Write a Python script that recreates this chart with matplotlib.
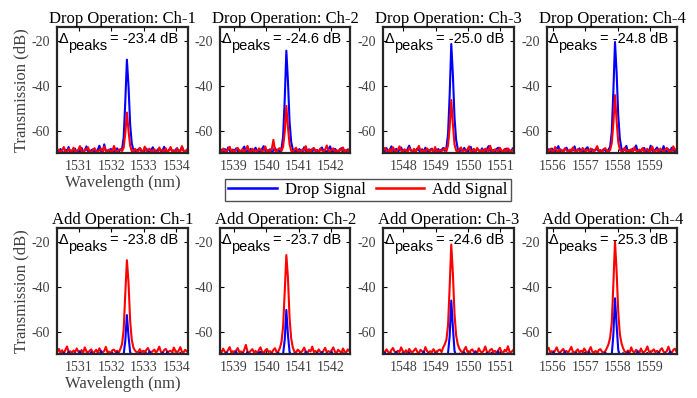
import numpy as np
import matplotlib.pyplot as plt

plt.rcParams['font.family'] = 'Liberation Serif'
plt.rcParams['axes.unicode_minus'] = False

# wavelength grid of each channel (start, nm) and sample step
wl_start = [1530.33, 1538.57, 1547.38, 1555.82]
wl_step = 0.05
n_pts = 82

# ---- Drop operation: drop signal (blue) / add signal (red), dB ----
dropop_drop_ch1 = [
    -68.6, -69.8, -68.1, -69.3, -70.2, -68.4, -68.9, -67.2, -69.6, -68.7,
    -69.4, -67.9, -70.1, -68.5, -69.2, -67.6, -69.5, -68.8, -66.9, -69.1,
    -69.9, -68.6, -68.2, -69.4, -69.7, -68.5, -66.6, -69.0, -69.8, -66.0,
    -69.1, -68.7, -69.5, -68.0, -68.9, -69.6, -68.5, -67.8, -69.3, -68.4,
    -68.2, -63.0, -47.0, -28.2, -40.0, -57.0, -65.5, -68.5, -69.3, -68.7,
    -68.3, -67.7, -69.2, -69.8, -68.4, -67.9, -69.0, -69.5, -68.6, -67.3,
    -69.1, -69.7, -68.3, -68.0, -69.2, -68.8, -67.1, -68.9, -69.6, -68.4,
    -68.1, -69.0, -69.9, -68.5, -67.7, -69.3, -68.6, -67.2, -68.9, -69.5,
    -68.5, -68.2]
dropop_add_ch1 = [
    -69.1, -68.3, -69.5, -68.7, -67.2, -69.2, -69.7, -67.9, -68.8, -69.4,
    -67.5, -69.0, -69.6, -68.4, -66.8, -68.9, -69.8, -68.2, -68.6, -67.3,
    -69.2, -69.6, -68.5, -67.7, -68.9, -69.4, -68.6, -67.9, -69.3, -67.0,
    -68.8, -69.7, -68.3, -68.9, -69.2, -66.7, -68.7, -69.4, -68.5, -68.1,
    -69.0, -67.5, -61.0, -51.8, -60.0, -66.5, -69.1, -69.5, -68.0, -68.8,
    -69.3, -67.6, -68.6, -69.4, -67.0, -69.0, -68.5, -67.9, -69.6, -68.8,
    -68.2, -69.3, -69.7, -67.4, -68.9, -68.4, -69.2, -67.8, -69.4, -68.7,
    -67.2, -69.1, -68.6, -69.5, -68.0, -68.8, -69.3, -66.8, -68.9, -69.6,
    -68.3, -69.0]
dropop_drop_ch2 = [
    -69.2, -68.4, -69.7, -68.1, -69.5, -67.4, -68.8, -69.6, -68.3, -69.0,
    -67.8, -69.3, -68.6, -69.9, -68.2, -67.0, -69.1, -68.7, -69.4, -68.0,
    -69.6, -68.5, -67.5, -69.2, -68.9, -69.7, -68.1, -66.8, -69.0, -68.6,
    -69.3, -68.2, -69.8, -68.7, -67.6, -69.1, -68.4, -69.5, -68.0, -62.5,
    -46.0, -24.2, -38.0, -56.0, -65.0, -68.3, -69.2, -68.6, -69.5, -68.1,
    -68.8, -69.4, -67.3, -68.9, -69.6, -68.2, -68.7, -69.3, -67.9, -69.0,
    -68.5, -69.8, -68.1, -67.4, -69.2, -68.8, -69.5, -68.3, -66.9, -68.9,
    -69.4, -68.0, -68.7, -69.7, -68.4, -67.7, -69.1, -68.6, -69.3, -68.2,
    -69.0, -68.5]
dropop_add_ch2 = [
    -68.7, -69.4, -67.9, -68.8, -69.5, -68.2, -67.1, -69.0, -68.6, -69.3,
    -68.4, -67.6, -69.2, -68.9, -68.1, -69.6, -68.5, -66.7, -68.9, -69.4,
    -68.0, -69.1, -68.6, -69.5, -67.8, -68.3, -69.2, -68.7, -67.0, -69.3,
    -68.5, -69.0, -68.2, -64.0, -68.8, -69.4, -68.1, -67.7, -69.0, -67.0,
    -60.5, -48.8, -58.5, -66.0, -68.9, -69.3, -68.4, -67.5, -69.1, -68.7,
    -69.4, -68.2, -68.8, -66.8, -69.2, -68.5, -69.6, -68.0, -67.6, -69.0,
    -68.6, -69.3, -67.9, -68.7, -69.5, -68.2, -66.5, -68.9, -69.1, -68.4,
    -67.8, -69.2, -68.6, -69.7, -68.1, -68.9, -67.4, -69.3, -68.5, -69.0,
    -68.3, -67.9]
dropop_drop_ch3 = [
    -68.4, -69.1, -67.7, -69.5, -68.6, -66.9, -68.9, -69.3, -68.0, -69.6,
    -68.3, -67.4, -69.2, -68.8, -69.7, -68.1, -66.6, -68.7, -69.4, -68.5,
    -69.0, -67.8, -68.6, -69.5, -68.2, -69.1, -67.5, -68.9, -69.6, -68.4,
    -67.9, -69.3, -68.7, -69.0, -68.1, -69.4, -68.6, -67.6, -68.9, -67.5,
    -61.5, -44.0, -21.2, -35.0, -54.0, -64.0, -68.0, -69.2, -68.4, -69.0,
    -67.6, -68.8, -69.5, -68.3, -67.1, -69.0, -68.7, -69.4, -68.0, -68.6,
    -69.3, -67.8, -68.9, -69.6, -68.2, -66.8, -68.8, -69.1, -68.5, -69.4,
    -68.1, -67.5, -69.2, -68.7, -69.5, -68.3, -67.9, -69.0, -68.6, -69.3,
    -67.7, -68.9]
dropop_add_ch3 = [
    -69.0, -67.6, -68.8, -69.4, -68.1, -69.2, -67.3, -68.7, -69.5, -68.4,
    -66.9, -68.9, -69.3, -68.2, -68.7, -69.6, -67.5, -68.5, -69.1, -68.0,
    -69.4, -68.3, -66.7, -68.8, -69.2, -68.5, -69.7, -67.8, -68.6, -69.0,
    -68.2, -69.5, -67.2, -68.9, -69.3, -68.4, -69.0, -68.6, -67.7, -69.1,
    -66.5, -58.5, -46.2, -57.0, -66.0, -68.8, -69.4, -68.1, -67.4, -69.2,
    -68.6, -69.0, -68.3, -66.9, -69.5, -68.7, -68.0, -69.3, -67.6, -68.9,
    -69.2, -68.4, -69.6, -67.9, -68.5, -69.1, -66.6, -68.8, -69.4, -68.2,
    -68.7, -69.3, -67.5, -68.9, -69.0, -68.1, -69.5, -67.8, -68.6, -69.2,
    -68.4, -67.9]
dropop_drop_ch4 = [
    -69.1, -68.2, -69.6, -67.9, -68.7, -69.3, -68.0, -66.8, -69.0, -68.5,
    -69.4, -68.1, -67.5, -68.9, -69.5, -68.3, -68.8, -66.9, -69.2, -68.6,
    -67.8, -69.3, -68.4, -69.7, -68.0, -67.3, -68.9, -69.4, -68.2, -69.0,
    -68.6, -67.7, -69.2, -68.5, -69.5, -68.1, -68.8, -69.3, -68.4, -67.0,
    -60.5, -42.0, -20.3, -34.0, -53.0, -63.5, -67.8, -69.0, -68.3, -66.7,
    -69.2, -68.6, -69.5, -67.9, -68.4, -66.5, -69.0, -68.7, -69.3, -68.1,
    -67.6, -69.1, -68.5, -69.6, -66.6, -68.8, -69.2, -68.3, -67.4, -69.0,
    -68.7, -69.4, -66.8, -68.9, -69.1, -68.2, -69.5, -67.5, -68.6, -69.2,
    -68.0, -68.8]
dropop_add_ch4 = [
    -68.3, -69.5, -68.0, -68.8, -69.3, -67.2, -68.9, -69.4, -68.1, -68.7,
    -69.2, -67.8, -68.6, -69.5, -68.4, -69.0, -67.4, -68.8, -69.3, -68.2,
    -68.9, -69.6, -67.6, -68.5, -69.1, -68.3, -69.4, -67.9, -68.7, -69.2,
    -68.1, -66.8, -69.0, -68.6, -69.4, -68.2, -67.7, -68.9, -69.3, -68.5,
    -65.5, -56.5, -44.0, -55.5, -65.0, -68.4, -69.1, -68.7, -67.5, -69.3,
    -68.6, -69.0, -68.2, -69.5, -67.3, -68.8, -69.2, -68.4, -68.9, -67.7,
    -69.3, -68.5, -68.0, -69.4, -68.7, -67.0, -68.9, -69.1, -68.3, -69.5,
    -67.9, -68.6, -69.2, -68.4, -67.6, -69.0, -68.8, -69.3, -66.9, -68.5,
    -69.1, -68.4]

# ---- Add operation: drop signal (blue) / add signal (red), dB ----
addop_drop_ch1 = [
    -70.6, -69.8, -71.0, -70.2, -69.3, -70.8, -70.4, -68.9, -70.7, -71.1,
    -70.0, -69.5, -70.9, -70.3, -68.7, -70.6, -71.2, -70.1, -69.6, -70.8,
    -70.4, -69.0, -70.7, -71.0, -70.2, -69.7, -70.5, -68.6, -70.9, -70.3,
    -69.9, -70.8, -71.1, -70.0, -69.4, -70.6, -70.2, -69.1, -70.7, -70.4,
    -70.1, -70.0, -64.0, -52.5, -62.0, -69.0, -70.5, -70.9, -69.9, -70.6,
    -70.2, -69.3, -70.7, -71.1, -70.0, -69.5, -70.8, -68.7, -70.4, -70.9,
    -70.3, -69.8, -70.6, -71.0, -70.1, -69.2, -70.7, -70.4, -68.9, -70.6,
    -70.2, -70.8, -69.6, -70.3, -71.0, -70.5, -69.4, -70.9, -70.1, -70.6,
    -70.3, -69.9]
addop_add_ch1 = [
    -68.9, -67.6, -69.4, -68.2, -69.7, -68.0, -66.5, -69.1, -68.6, -69.5,
    -68.3, -69.0, -67.4, -68.8, -69.6, -68.1, -69.3, -66.9, -68.7, -69.2,
    -68.4, -67.8, -69.5, -68.9, -68.0, -69.4, -67.3, -68.6, -69.1, -68.5,
    -66.7, -69.2, -68.8, -69.6, -68.2, -67.9, -69.0, -68.4, -69.3, -67.5,
    -65.5, -59.0, -43.0, -28.0, -38.0, -55.0, -63.5, -67.0, -68.3, -69.1,
    -68.9, -67.7, -69.2, -68.4, -69.6, -68.0, -67.2, -68.8, -69.3, -68.5,
    -67.9, -69.4, -68.2, -66.6, -68.9, -69.5, -68.1, -67.6, -69.0, -68.7,
    -68.4, -69.2, -67.0, -68.6, -69.4, -68.3, -66.8, -68.9, -69.1, -68.0,
    -68.7, -69.3]
addop_drop_ch2 = [
    -70.4, -69.6, -70.9, -70.1, -69.2, -70.7, -71.0, -69.8, -70.5, -70.2,
    -68.8, -70.6, -71.1, -70.0, -69.5, -70.8, -70.3, -69.0, -70.7, -70.4,
    -69.9, -70.6, -71.0, -70.2, -69.4, -68.9, -70.8, -70.1, -69.7, -70.5,
    -70.9, -70.3, -69.6, -70.7, -71.1, -70.0, -69.3, -70.6, -70.4, -69.8,
    -63.5, -50.2, -61.5, -69.0, -70.6, -70.2, -69.5, -70.8, -71.0, -70.1,
    -69.7, -70.5, -70.9, -68.8, -70.3, -70.7, -69.9, -70.4, -71.1, -70.0,
    -69.4, -70.6, -70.2, -69.0, -70.8, -70.4, -69.6, -70.9, -70.1, -68.9,
    -70.5, -70.7, -69.8, -70.3, -71.0, -70.2, -69.5, -70.6, -70.4, -69.9,
    -70.8, -70.3]
addop_add_ch2 = [
    -68.2, -69.0, -67.5, -68.9, -69.4, -68.1, -66.8, -69.2, -68.6, -69.5,
    -68.3, -67.2, -69.1, -68.7, -69.6, -68.0, -65.8, -68.9, -69.3, -68.4,
    -67.7, -69.2, -68.5, -69.7, -68.1, -66.9, -68.8, -69.4, -68.2, -67.6,
    -69.0, -68.6, -69.5, -68.0, -67.3, -69.1, -68.7, -67.2, -64.5, -57.5,
    -42.0, -25.7, -36.0, -54.0, -63.0, -67.0, -68.8, -69.3, -67.9, -68.6,
    -69.2, -68.4, -67.0, -68.9, -69.5, -68.1, -68.7, -66.6, -69.0, -68.5,
    -69.4, -67.8, -68.9, -69.6, -68.3, -67.1, -69.2, -68.6, -69.0, -68.2,
    -66.9, -68.8, -69.5, -68.0, -68.7, -69.3, -67.4, -68.9, -69.1, -67.8,
    -68.6, -69.2]
addop_drop_ch3 = [
    -70.2, -69.3, -70.7, -71.0, -70.1, -69.6, -70.8, -70.4, -68.9, -70.6,
    -70.9, -70.0, -69.5, -70.7, -71.1, -70.3, -69.2, -70.5, -70.8, -69.9,
    -70.4, -71.0, -69.7, -70.2, -70.6, -68.8, -70.9, -70.3, -69.6, -70.7,
    -71.1, -70.1, -69.4, -70.5, -70.8, -70.0, -69.8, -70.6, -69.9, -70.3,
    -69.5, -62.0, -46.0, -58.0, -68.5, -70.4, -70.9, -69.7, -70.2, -70.6,
    -69.1, -70.8, -70.3, -71.0, -69.6, -70.5, -70.1, -68.9, -70.7, -70.4,
    -69.8, -70.6, -71.1, -70.2, -69.4, -70.7, -70.0, -69.3, -70.8, -70.5,
    -70.1, -68.7, -70.4, -70.9, -69.9, -70.6, -70.2, -69.5, -70.8, -71.0,
    -70.3, -69.8]
addop_add_ch3 = [
    -68.5, -69.2, -67.8, -68.9, -69.5, -68.1, -67.2, -68.8, -69.3, -68.4,
    -69.0, -66.9, -68.6, -69.4, -68.2, -69.6, -67.6, -68.7, -69.1, -68.3,
    -67.4, -68.9, -69.5, -68.0, -68.7, -69.2, -66.8, -68.5, -69.4, -68.6,
    -69.1, -67.7, -68.8, -69.3, -68.2, -67.9, -69.0, -67.0, -65.5, -63.5,
    -57.0, -40.0, -21.0, -34.0, -52.0, -61.5, -65.5, -67.5, -68.6, -69.2,
    -68.0, -66.7, -68.9, -69.4, -68.3, -67.8, -69.1, -68.6, -69.5, -67.3,
    -68.7, -69.2, -68.4, -66.5, -68.9, -69.3, -68.1, -67.6, -69.0, -68.5,
    -69.4, -68.2, -67.1, -68.8, -69.5, -68.0, -68.7, -66.4, -68.9, -69.1,
    -68.3, -67.5]
addop_drop_ch4 = [
    -70.5, -69.7, -70.9, -70.2, -69.0, -70.6, -71.0, -70.3, -69.5, -70.8,
    -70.1, -68.8, -70.7, -71.1, -70.4, -69.6, -70.2, -70.9, -69.3, -70.5,
    -70.0, -70.8, -71.0, -69.4, -70.3, -70.6, -68.9, -70.7, -70.2, -69.8,
    -70.9, -70.4, -69.7, -70.1, -71.1, -70.5, -69.2, -70.8, -70.3, -69.9,
    -70.2, -61.0, -45.0, -57.0, -68.0, -70.7, -70.1, -69.5, -70.9, -70.4,
    -69.0, -70.6, -71.0, -70.2, -69.8, -70.5, -68.7, -70.8, -70.3, -69.6,
    -70.9, -70.1, -69.4, -70.7, -71.1, -70.4, -69.7, -70.2, -70.8, -69.1,
    -70.5, -70.9, -70.0, -69.6, -70.7, -70.3, -68.8, -70.6, -71.0, -70.2,
    -69.8, -70.5]
addop_add_ch4 = [
    -68.0, -67.1, -69.2, -68.6, -69.5, -68.3, -66.9, -68.8, -69.3, -68.4,
    -67.6, -69.0, -68.5, -69.4, -68.1, -66.7, -68.9, -69.2, -68.6, -67.8,
    -69.3, -68.4, -69.0, -67.4, -68.7, -69.5, -68.2, -66.8, -68.9, -69.1,
    -68.5, -69.4, -68.1, -67.7, -68.9, -69.2, -68.6, -67.2, -65.5, -62.5,
    -56.0, -38.5, -19.5, -33.0, -51.0, -61.0, -65.0, -67.3, -68.8, -69.1,
    -68.3, -69.4, -66.9, -68.7, -69.2, -68.0, -68.6, -69.5, -67.4, -68.9,
    -69.0, -68.2, -66.5, -68.8, -69.3, -68.5, -67.8, -69.1, -68.4, -69.6,
    -68.0, -67.3, -68.9, -69.2, -68.6, -66.6, -68.7, -69.4, -68.1, -67.5,
    -68.8, -69.0]

dropop_drop = [dropop_drop_ch1, dropop_drop_ch2, dropop_drop_ch3, dropop_drop_ch4]
dropop_add = [dropop_add_ch1, dropop_add_ch2, dropop_add_ch3, dropop_add_ch4]
addop_drop = [addop_drop_ch1, addop_drop_ch2, addop_drop_ch3, addop_drop_ch4]
addop_add = [addop_add_ch1, addop_add_ch2, addop_add_ch3, addop_add_ch4]

dropop_delta = [-23.4, -24.6, -25.0, -24.8]
addop_delta = [-23.8, -23.7, -24.6, -25.3]

xticks = [[1531, 1532, 1533, 1534], [1539, 1540, 1541, 1542],
          [1548, 1549, 1550, 1551], [1556, 1557, 1558, 1559]]
channels = ['Ch-1', 'Ch-2', 'Ch-3', 'Ch-4']

fig = plt.figure(figsize=(6.97, 3.98), dpi=100)
lefts = [0.0822, 0.3156, 0.5499, 0.7848]
bottoms = [0.6148, 0.1098]
w, h = 0.1872, 0.318

rows = [('Drop Operation', dropop_drop, dropop_add, dropop_delta),
        ('Add Operation', addop_drop, addop_add, addop_delta)]

for r, (op, drop_sig, add_sig, delta) in enumerate(rows):
    for c in range(4):
        ax = fig.add_axes([lefts[c], bottoms[r], w, h])
        wl = wl_start[c] + wl_step * np.arange(n_pts)
        if r == 0:
            l1, = ax.plot(wl, drop_sig[c], color='#0000ff', lw=1.5)
            l2, = ax.plot(wl, add_sig[c], color='#ff0000', lw=1.5)
        else:
            l2, = ax.plot(wl, add_sig[c], color='#ff0000', lw=1.5)
            l1, = ax.plot(wl, drop_sig[c], color='#0000ff', lw=1.5)
        ax.set_xlim(wl_start[c], wl_start[c] + 4.03)
        ax.set_ylim(-70, -13.5)
        ax.set_xticks(xticks[c])
        ax.set_yticks([-20, -40, -60])
        ax.tick_params(direction='in', top=True, right=True, length=3,
                       width=0.8, labelsize=10, labelcolor='#404040', pad=5)
        for s in ax.spines.values():
            s.set_linewidth(1.6)
            s.set_color('#262626')
        ax.set_title(f'{op}: {channels[c]}', fontsize=12, pad=3)
        # Delta_peaks label: subscript kept at full size like the original
        txt = dict(transform=ax.transAxes, ha='left', va='baseline',
                   fontsize=10.5, family='Liberation Sans')
        ax.text(0.013, 0.873, '\u0394', **txt)
        ax.text(0.083, 0.813, 'peaks', **txt)
        ax.text(0.405, 0.873, f'= {delta[c]:.1f} dB', **txt)
        if c == 0:
            ax.set_ylabel('Transmission (dB)', fontsize=12, color='#404040', labelpad=2)
            ax.set_xlabel('Wavelength (nm)', fontsize=12, color='#404040', labelpad=1)

leg = fig.legend([l1, l2], ['Drop Signal', 'Add Signal'], ncol=2,
                 loc='center', bbox_to_anchor=(368 / 697, 1 - 190 / 398),
                 fontsize=12, frameon=True, fancybox=False, handlelength=2.9,
                 borderpad=0.2, columnspacing=0.6, handletextpad=0.5)
leg.get_frame().set_edgecolor('#262626')
leg.get_frame().set_linewidth(1.0)
for ln in leg.get_lines():
    ln.set_linewidth(1.8)

fig.savefig('out.png', dpi=100)
